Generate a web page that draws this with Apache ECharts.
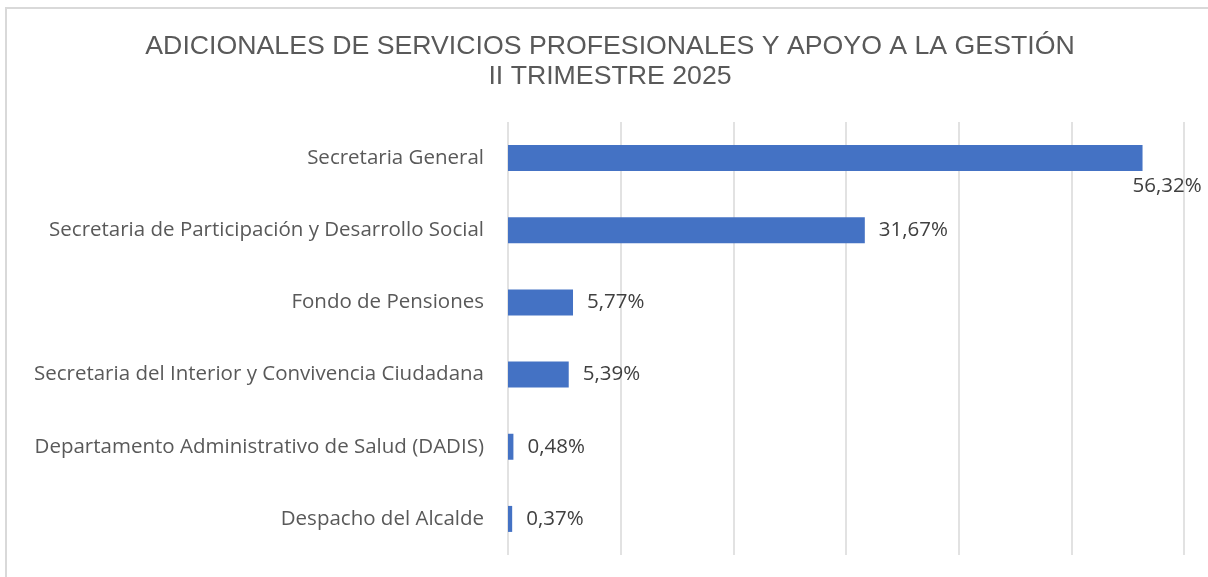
<!DOCTYPE html>
<html>
<head>
<meta charset="utf-8">
<script src="https://cdn.jsdelivr.net/npm/echarts@6/dist/echarts.min.js"></script>
<style>
  html, body { margin: 0; padding: 0; background: #fff; overflow: hidden; }
  #frame { position: absolute; left: 5px; top: 7px; width: 1220px; height: 600px; border: 2px solid #d9d9d9; }
  #chart { position: absolute; left: 0; top: 0; width: 1208px; height: 577px; }
</style>
</head>
<body>
<div id="frame"></div>
<div id="chart"></div>
<script>
const categories = [
  'Secretaria General',
  'Secretaria de Participación y Desarrollo Social',
  'Fondo de Pensiones',
  'Secretaria del Interior y Convivencia Ciudadana',
  'Departamento Administrativo de Salud (DADIS)',
  'Despacho del Alcalde'
]
const values = [56.32, 31.67, 5.77, 5.39, 0.48, 0.37]
const titleLines = ['ADICIONALES DE SERVICIOS PROFESIONALES Y APOYO A LA GESTIÓN', 'II TRIMESTRE 2025']

const chart = echarts.init(document.getElementById('chart'))

const labelFont = '"Open Sans", "Noto Sans", sans-serif'

// the first bar's label sits under the bar end, like in the source
const seriesData = values.map((v, i) => {
  const item = { value: v }
  if (i === 0) {
    item.label = { position: 'right', offset: [-24, 28] }
  }
  return item
})

const option = {
  title: {
    text: titleLines.join('\n'),
    left: 605,
    textAlign: 'center',
    top: 27,
    textStyle: {
      fontFamily: '"Liberation Sans", Arial, sans-serif',
      fontSize: 26.7,
      fontWeight: 'normal',
      color: '#595959',
      lineHeight: 30,
    },
  },
  grid: {
    left: 508,
    right: 24,
    top: 122,
    bottom: 22,
    containLabel: false,
  },
  xAxis: {
    type: 'value',
    min: 0,
    max: 60,
    interval: 10,
    axisLabel: { show: false },
    axisLine: { show: false },
    axisTick: { show: false },
    splitLine: { show: true, lineStyle: { color: '#d9d9d9', width: 1.5 } },
  },
  yAxis: {
    type: 'category',
    inverse: true,
    data: categories,
    axisLine: { show: false },
    axisTick: { show: false },
    axisLabel: {
      margin: 24,
      fontFamily: labelFont,
      fontSize: 20.5,
      color: '#595959',
    },
  },
  series: [
    {
      type: 'bar',
      data: seriesData,
      barWidth: 26,
      itemStyle: { color: '#4472C4' },
      label: {
        show: true,
        position: 'right',
        distance: 14,
        fontFamily: labelFont,
        fontSize: 20.5,
        color: '#404040',
        formatter: (p) => p.value.toFixed(2).replace('.', ',') + '%',
      },
    },
  ],
}

chart.setOption(option)
</script>
</body>
</html>
